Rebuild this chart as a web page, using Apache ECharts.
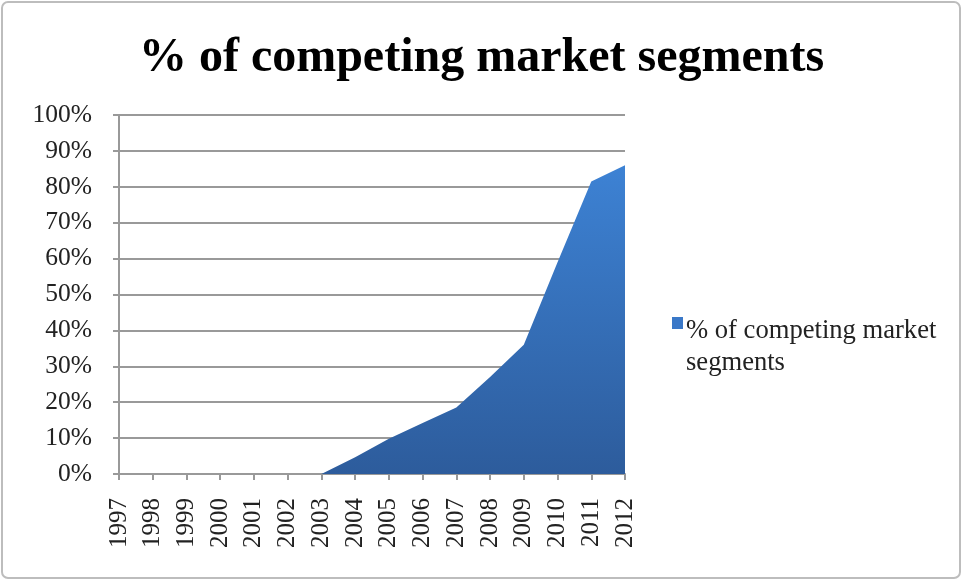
<!DOCTYPE html>
<html><head><meta charset="utf-8">
<script src="https://cdn.jsdelivr.net/npm/echarts@6/dist/echarts.min.js"></script>
<style>html,body{margin:0;padding:0;background:#fff}#c{width:963px;height:581px}</style>
</head><body><div id="c"></div>
<script>
const years = ['1997','1998','1999','2000','2001','2002','2003','2004','2005','2006','2007','2008','2009','2010','2011','2012'];
const values = [0,0,0,0,0,0,0,4.7,9.8,14.2,18.5,27,36,59,81.5,86];
const seriesName = '% of competing market segments';
const yTicks = {min:0, max:100, interval:10};

const chart = echarts.init(document.getElementById('c'));
const serif = '"Liberation Serif","Times New Roman",serif';
chart.setOption({
  animation:false,
  graphic:[{type:'rect', shape:{x:2,y:2,width:958,height:576,r:6}, style:{fill:'none', stroke:'#bdbdbd', lineWidth:2}, z:-1}],
  title:{text:seriesName, left:'center', top:30, textStyle:{fontFamily:serif, fontWeight:'bold', fontSize:48, color:'#000'}},
  grid:{left:119, right:338, top:115, bottom:107},
  legend:{orient:'vertical', left:667, top:310, itemWidth:11, itemHeight:60, itemGap:0,
    icon:'path://M0,0H11V12H0Z M0,59.99H0.01V60H0Z',
    formatter:()=> '% of competing market\nsegments',
    textStyle:{fontFamily:serif, fontSize:26.6, color:'#222', lineHeight:32, padding:[0,0,0,-2]}},
  xAxis:{type:'category', data:years, boundaryGap:false,
    axisLine:{lineStyle:{color:'#999', width:2}},
    axisTick:{show:true, length:6, lineStyle:{color:'#999', width:2}},
    axisLabel:{rotate:90, interval:0, fontFamily:serif, fontSize:25, color:'#222', margin:24}},
  yAxis:{type:'value', min:yTicks.min, max:yTicks.max, interval:yTicks.interval,
    axisLine:{show:true, lineStyle:{color:'#999', width:2}},
    axisTick:{show:true, length:6, lineStyle:{color:'#999', width:2}},
    splitLine:{lineStyle:{color:'#999', width:2}},
    axisLabel:{formatter:'{value}%', fontFamily:serif, fontSize:25.5, color:'#222', margin:27}},
  series:[{name:seriesName, type:'line', data:values, symbol:'none', symbolKeepAspect:false,
    lineStyle:{width:0},
    itemStyle:{color:'#3a78c8'},
    areaStyle:{opacity:1, color:new echarts.graphic.LinearGradient(0,0,0,1,[{offset:0,color:'#3d82d4'},{offset:1,color:'#2d5c9c'}])}}]
});
</script></body></html>
